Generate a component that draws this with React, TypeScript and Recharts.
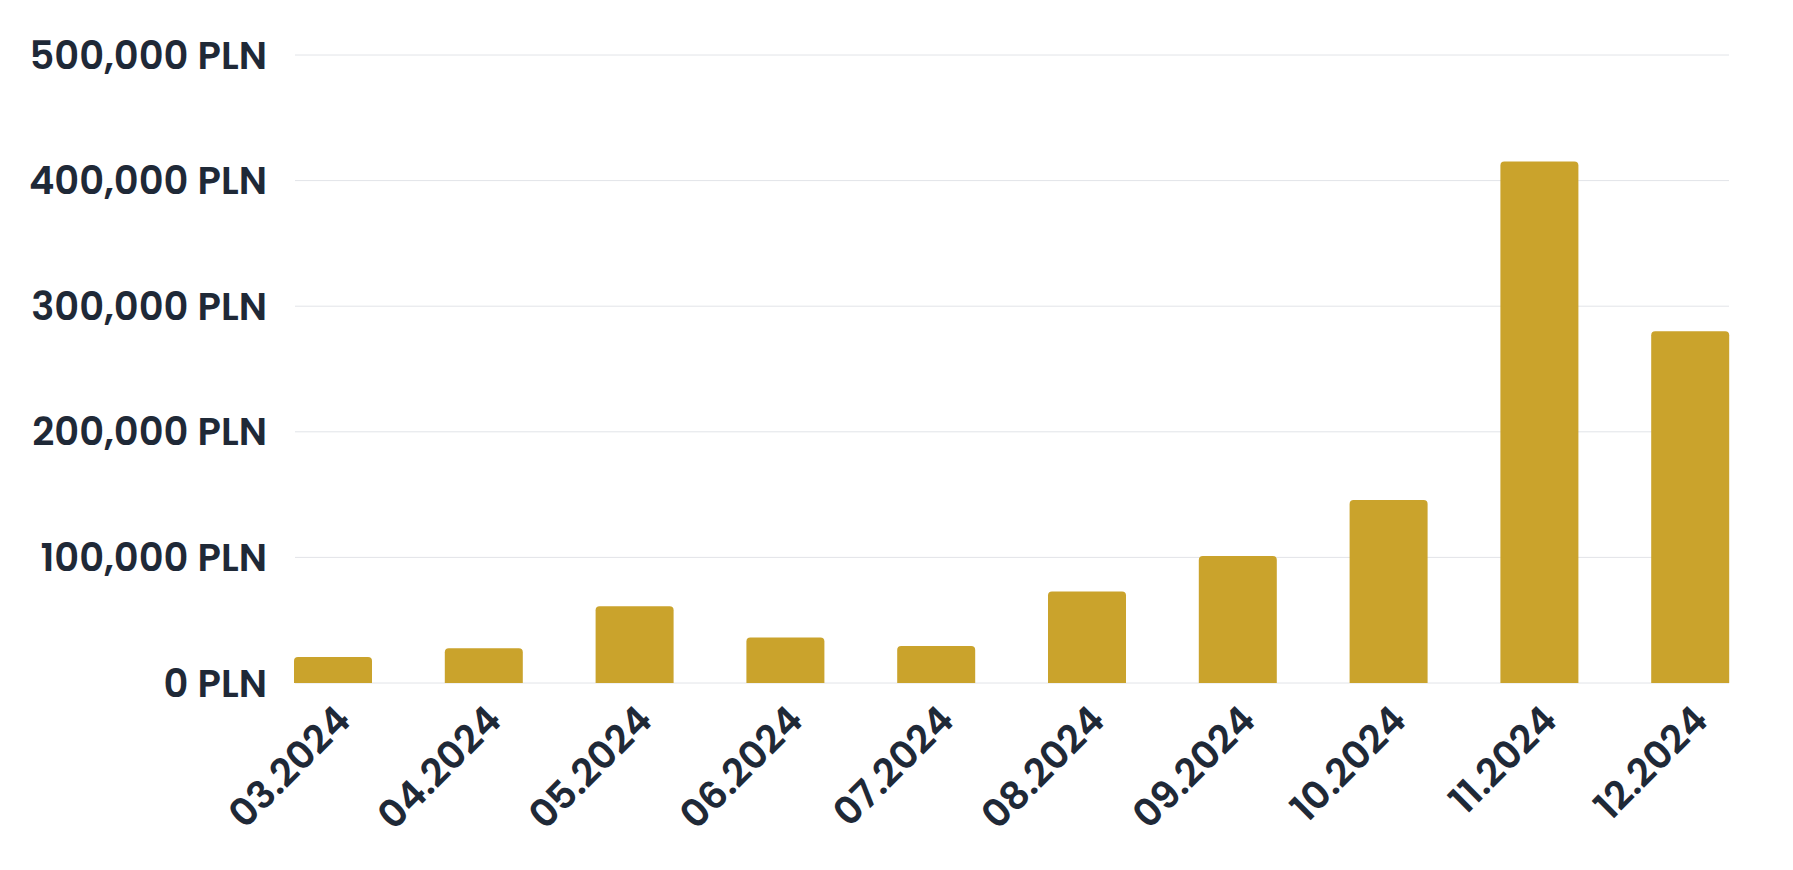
import React from "react";
import { BarChart, Bar, XAxis, YAxis, CartesianGrid } from "recharts";

const months = [
	"03.2024",
	"04.2024",
	"05.2024",
	"06.2024",
	"07.2024",
	"08.2024",
	"09.2024",
	"10.2024",
	"11.2024",
	"12.2024",
];

const revenue = [20700, 27700, 61200, 36200, 29500, 72900, 101200, 145700, 415200, 280000];

const yTicks = [0, 100000, 200000, 300000, 400000, 500000];

const data = months.map((month, i) => ({ month, revenue: revenue[i] }));

const FONT = "Poppins, Inter, sans-serif";
const TEXT = "#1f2937";

const formatPLN = (v: number) => `${v.toLocaleString("en-US")} PLN`;

export default function App() {
	return (
		<div style={{ width: 1793, height: 870, background: "#fff" }}>
			<style>{`body{margin:0}`}</style>
			<BarChart
				width={1793}
				height={870}
				data={data}
				margin={{ top: 55, right: 64, left: 0, bottom: 0 }}
			>
				<CartesianGrid vertical={false} stroke="#e2e4e8" />
				<XAxis
					dataKey="month"
					axisLine={false}
					tickLine={false}
					interval={0}
					angle={-45}
					textAnchor="end"
					height={187}
					tickMargin={14}
					padding={{ left: -37, right: -37 }}
					tick={{ fill: TEXT, fontSize: 38.5, fontWeight: 600, fontFamily: FONT }}
				/>
				<YAxis
					ticks={yTicks}
					domain={[0, 500000]}
					axisLine={false}
					tickLine={false}
					tickSize={0}
					tickMargin={28}
					width={295}
					tickFormatter={formatPLN}
					tick={{ fill: TEXT, fontSize: 38.5, fontWeight: 600, fontFamily: FONT }}
				/>
				<Bar
					dataKey="revenue"
					fill="#caa32c"
					barSize={78}
					radius={[4, 4, 0, 0]}
					isAnimationActive={false}
				/>
			</BarChart>
		</div>
	);
}
